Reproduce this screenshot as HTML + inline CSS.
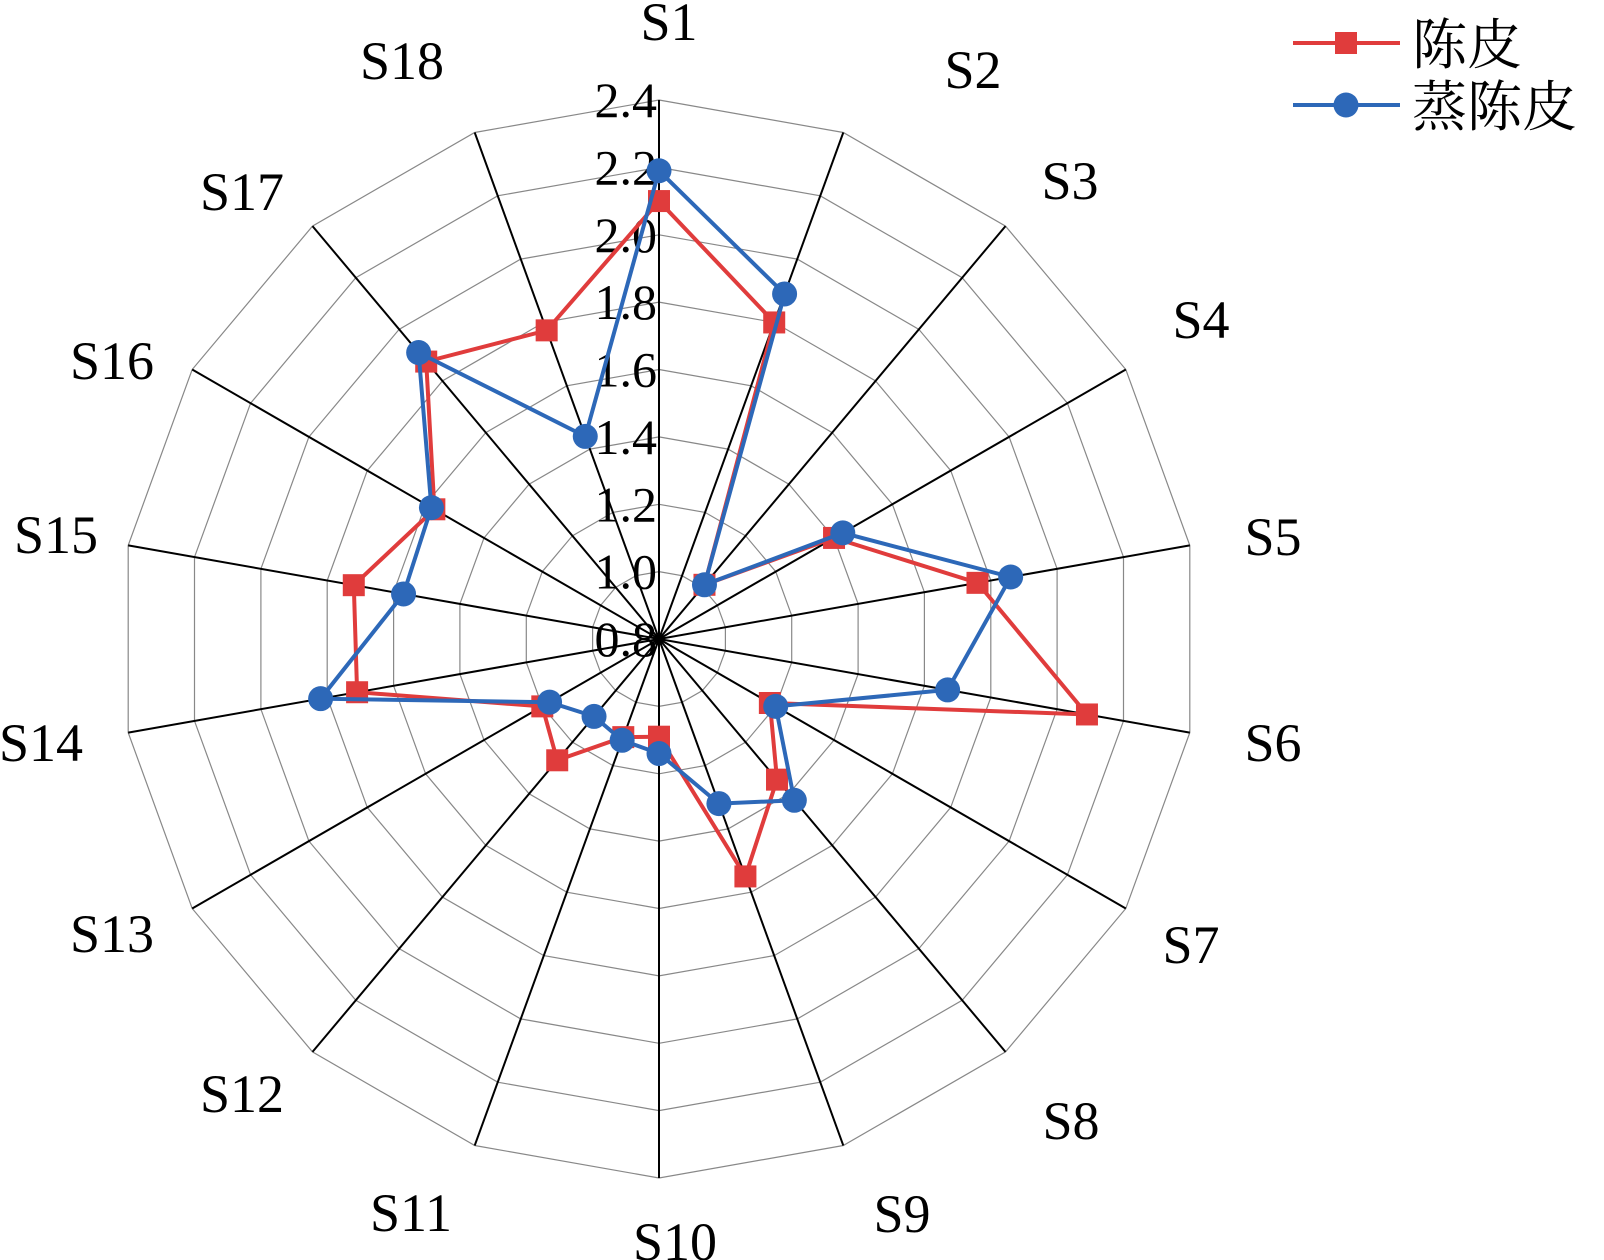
<!DOCTYPE html>
<html><head><meta charset="utf-8"><style>
html,body{margin:0;padding:0;background:#fff;}
svg{display:block;font-family:"Liberation Serif","Noto Serif CJK SC",serif;}
</style></head><body>
<svg id="s" width="1604" height="1260" viewBox="0 0 1604 1260" xmlns="http://www.w3.org/2000/svg"></svg>
<script>
var cx=659,cy=639,R=539,N=18,s='';
function pt(v,i){var r=(v-0.8)/1.6*R,a=i*20*Math.PI/180;return [cx+r*Math.sin(a),cy-r*Math.cos(a)];}
for(var k=1;k<=8;k++){var p=[];for(var i=0;i<N;i++){var q=pt(0.8+k*0.2,i);p.push(q[0].toFixed(1)+','+q[1].toFixed(1));}
s+='<polygon points="'+p.join(' ')+'" fill="none" stroke="#888" stroke-width="1.2"/>';}
for(var i=0;i<N;i++){var q=pt(2.4,i);s+='<line x1="'+cx+'" y1="'+cy+'" x2="'+q[0].toFixed(1)+'" y2="'+q[1].toFixed(1)+'" stroke="#000" stroke-width="2"/>';}
for(var k=0;k<=8;k++){var v=(0.8+k*0.2).toFixed(1);s+='<text x="657" y="'+(cy-k*R/8+17)+'" font-size="50" text-anchor="end">'+v+'</text>';}
var red=[2.10,1.80,1.01,1.40,1.76,2.09,1.18,1.345,1.55,1.09,1.11,1.27,1.20,1.71,1.72,1.57,1.875,1.775];
var blue=[2.19,1.89,1.01,1.43,1.86,1.67,1.20,1.425,1.32,1.14,1.12,1.10,1.175,1.82,1.57,1.58,1.91,1.44];
function ser(d,c,sq){var p=[],m='';for(var i=0;i<N;i++){var q=pt(d[i],i);p.push(q[0].toFixed(1)+','+q[1].toFixed(1));
m+=sq?'<rect x="'+(q[0]-11)+'" y="'+(q[1]-11)+'" width="22" height="22" fill="'+c+'"/>':'<circle cx="'+q[0]+'" cy="'+q[1]+'" r="12.5" fill="'+c+'"/>';}
return '<polygon points="'+p.join(' ')+'" fill="none" stroke="'+c+'" stroke-width="4"/>'+m;}
s+=ser(red,'#e03c3c',1)+ser(blue,'#2d68b8',0);
var L=[[669,22],[973,70],[1070,181],[1201,320],[1273,537],[1273,743],[1191,945],[1071,1121],[902,1214],[675,1242],[411,1213],[242,1094],[112,934],[41,743],[56,535],[112,361],[242,192],[402,61]];
for(var i=0;i<N;i++)s+='<text x="'+L[i][0]+'" y="'+(L[i][1]+18)+'" font-size="54" text-anchor="middle">S'+(i+1)+'</text>';
s+='<line x1="1293" y1="43" x2="1400" y2="43" stroke="#e03c3c" stroke-width="4"/><rect x="1335" y="32" width="22" height="22" fill="#e03c3c"/>';
s+='<line x1="1293" y1="105" x2="1400" y2="105" stroke="#2d68b8" stroke-width="4"/><circle cx="1346" cy="105" r="12.5" fill="#2d68b8"/>';
s+='<text x="1412" y="64" font-size="55">陈皮</text><text x="1412" y="126" font-size="55">蒸陈皮</text>';
document.getElementById('s').innerHTML=s;
</script>
</body></html>
